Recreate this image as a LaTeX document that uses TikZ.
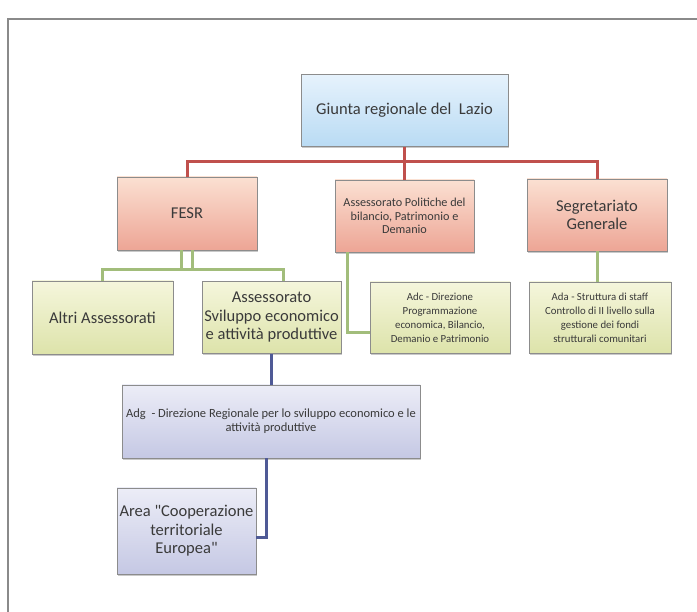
\documentclass[tikz,border=0pt]{standalone}
\usepackage{fontspec}
\setmainfont{Carlito}
\usetikzlibrary{shadows}
\definecolor{txt}{HTML}{3A3A3A}
\definecolor{bordc}{HTML}{8C8C8C}
\definecolor{blueT}{HTML}{E6F2FC}
\definecolor{blueB}{HTML}{B9DBF4}
\definecolor{pinkT}{HTML}{FBE0D2}
\definecolor{pinkB}{HTML}{EDA595}
\definecolor{greenT}{HTML}{F5F6DC}
\definecolor{greenB}{HTML}{DDE3AA}
\definecolor{lavT}{HTML}{ECEDF7}
\definecolor{lavB}{HTML}{C5C8E4}
\definecolor{redln}{HTML}{C0504D}
\definecolor{greenln}{HTML}{A2BD7B}
\definecolor{blueln}{HTML}{4F5A96}
\definecolor{framec}{HTML}{8A8A8A}
\tikzset{
  box/.style={draw=bordc, line width=0.8pt, align=center, text=txt, inner sep=2pt,
    drop shadow={shadow xshift=1.2pt, shadow yshift=-1.8pt, opacity=0.35, fill=black!60}},
  bluebox/.style={box, top color=blueT, bottom color=blueB},
  pinkbox/.style={box, top color=pinkT, bottom color=pinkB},
  greenbox/.style={box, top color=greenT, bottom color=greenB},
  lavbox/.style={box, top color=lavT, bottom color=lavB},
  redc/.style={draw=redln, line width=3pt},
  greenc/.style={draw=greenln, line width=3pt},
  bluec/.style={draw=blueln, line width=3pt},
  big/.style={font=\fontsize{16.5}{18.5}\selectfont},
  polf/.style={font=\fontsize{12.2}{13.7}\selectfont},
  small/.style={font=\fontsize{10.8}{13.9}\selectfont},
  adgf/.style={font=\fontsize{12.5}{14.3}\selectfont},
}
\begin{document}
\begin{tikzpicture}[x=1pt,y=-1pt]
\useasboundingbox (0,0) rectangle (697,612);
\fill[white] (0,0) rectangle (697,612);
\draw[framec, line width=1.5pt] (8,612) -- (8,19) -- (697,19);

\node[bluebox, big, minimum width=207pt, minimum height=72pt] (giunta) at (404.5,110.5) {Giunta regionale del\ \ Lazio};
\node[pinkbox, big, minimum width=140pt, minimum height=73pt] (fesr) at (187,213.5) {FESR};
\node[pinkbox, polf, minimum width=139pt, minimum height=72pt] (polit) at (404.5,216) {Assessorato Politiche del\\bilancio, Patrimonio e\\Demanio};
\node[pinkbox, big, minimum width=140pt, minimum height=72pt] (segr) at (597,215) {Segretariato\\Generale};
\node[greenbox, big, minimum width=141pt, minimum height=73pt] (altri) at (102.5,317.5) {Altri Assessorati};
\node[greenbox, big, minimum width=139pt, minimum height=72pt] (svil) at (271.5,317.5) {Assessorato\\Sviluppo economico\\e attività produttive};
\node[greenbox, small, minimum width=140pt, minimum height=71pt] (adc) at (440,317.5) {Adc - Direzione\\Programmazione\\economica, Bilancio,\\Demanio e Patrimonio};
\node[greenbox, small, minimum width=142pt, minimum height=71pt] (ada) at (600,317.5) {Ada - Struttura di staff\\Controllo di II livello sulla\\gestione dei fondi\\strutturali comunitari};
\node[lavbox, adgf, minimum width=298pt, minimum height=73pt] (adg) at (271,421.5) {Adg\ \ - Direzione Regionale per lo sviluppo economico e le\\attività produttive};
\node[lavbox, big, minimum width=139pt, minimum height=86pt] (area) at (186.5,531) {Area \textquotedbl Cooperazione\\territoriale\\Europea\textquotedbl};

% red connectors
\coordinate (rbus) at (404.5,162);
\draw[redc] (fesr.north) |- (rbus) -| (segr.north);
\draw[redc] (giunta.south) -- (polit.north);

% green connectors
\coordinate (g1) at (102.5,270);
\coordinate (g2) at (283,270);
\draw[greenc] ([xshift=-5.5pt]fesr.south) -- ([xshift=-5.5pt]fesr.south |- g1);
\draw[greenc] ([xshift=5.5pt]fesr.south) -- ([xshift=5.5pt]fesr.south |- g1);
\draw[greenc] (altri.north) -- (g1) -- (g2) -- (g2 |- svil.north);
\draw[greenc] ([xshift=13pt]polit.south west) |- ([yshift=-15.5pt]adc.west);
\draw[greenc] (segr.south) -- (segr.south |- ada.north);

% blue connectors
\draw[bluec] (svil.south) -- (svil.south |- adg.north);
\draw[bluec] ([xshift=-5pt]adg.south) |- ([yshift=-7pt]area.east);
\end{tikzpicture}
\end{document}
